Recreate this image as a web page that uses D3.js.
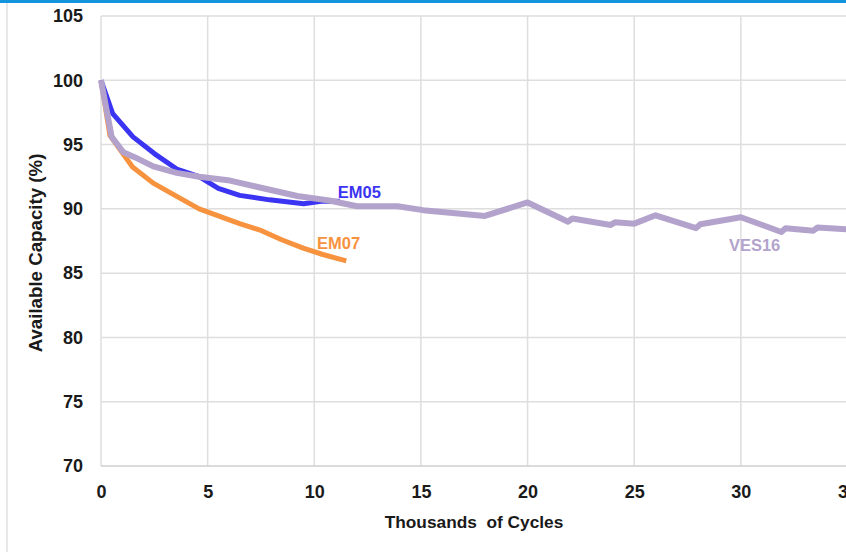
<!DOCTYPE html>
<html>
<head>
<meta charset="utf-8">
<script src="https://cdn.jsdelivr.net/npm/d3@7"></script>
<style>
  body { margin: 0; background: #fff; }
  svg { display: block; font-family: "Liberation Sans", Arial, sans-serif; }
</style>
</head>
<body>
<div class="viz"></div>
<script>
// capacity fade data, x = thousands of cycles, y = available capacity (%)
const em05 = [[0,100],[0.55,97.4],[1.5,95.6],[2.5,94.3],[3.55,93.1],[4.6,92.5],[5.5,91.6],[6.5,91.05],[7.9,90.7],[9.5,90.4],[10.4,90.6],[11.2,90.6]];
const em07 = [[0,100],[0.42,95.7],[1.48,93.25],[2.45,92.0],[3.47,91.05],[4.6,90.0],[5.6,89.4],[6.5,88.85],[7.45,88.35],[8.47,87.6],[9.48,86.95],[10.4,86.45],[11.5,85.95]];
const ves16 = [[0,100],[0.5,95.6],[1.05,94.4],[1.6,94.0],[2.45,93.3],[3.55,92.8],[4.6,92.5],[6.05,92.2],[7.6,91.6],[9.2,91.0],[10.7,90.65],[12,90.2],[13.9,90.2],[15.1,89.9],[18,89.45],[20,90.5],[21.9,89.0],[22.1,89.25],[23.9,88.75],[24.1,88.95],[25,88.85],[26,89.5],[27.9,88.5],[28.1,88.8],[30,89.35],[31.9,88.2],[32.1,88.5],[33.4,88.3],[33.6,88.55],[35.5,88.35]];

const xTicks = [0,5,10,15,20,25,30,35];
const yTicks = [70,75,80,85,90,95,100,105];

const seriesNames = ["EM07","EM05","VES16"];
const seriesData = [em07, em05, ves16];
const seriesColors = ["#f7923f","#3b34f2","#b3a3cc"];
const seriesWidths = [5, 5, 6];
const labelPos = [[10.13, 87.2], [11.1, 91.16], [29.44, 87.03]];

var width = 846, height = 552;

var svg = d3.select('.viz').append('svg')
    .attr('width', width)
    .attr('height', height);

// frame bits
svg.append('rect').attr('x', 0).attr('y', 0).attr('width', width).attr('height', 3).attr('fill', '#1195dd');
svg.append('line').attr('x1', 7).attr('x2', 7).attr('y1', 3).attr('y2', height)
    .attr('stroke', '#d9d9d9').attr('stroke-width', 1.2);

var x = d3.scaleLinear().domain([0, 35]).range([101, 847.5]);
var y = d3.scaleLinear().domain([70, 105]).range([466, 16]);

// gridlines
svg.append('g').selectAll('line.h').data(yTicks.filter(d => d > 70)).enter().append('line')
    .attr('x1', x(0)).attr('x2', width)
    .attr('y1', d => y(d)).attr('y2', d => y(d))
    .attr('stroke', '#dedede').attr('stroke-width', 1.5);
svg.append('g').selectAll('line.v').data(xTicks).enter().append('line')
    .attr('x1', d => x(d)).attr('x2', d => x(d))
    .attr('y1', y(105)).attr('y2', y(70))
    .attr('stroke', '#dedede').attr('stroke-width', 1.5);

// axis line at bottom
svg.append('line').attr('x1', x(0)).attr('x2', width).attr('y1', y(70)).attr('y2', y(70))
    .attr('stroke', '#cfcfcf').attr('stroke-width', 1.5);

// x tick labels
var xAxis = d3.axisBottom(x).tickValues(xTicks).tickSize(0).tickPadding(19);
var gx = svg.append('g').attr('transform', 'translate(0,' + y(70) + ')').call(xAxis);
gx.select('.domain').remove();
gx.selectAll('text').attr('font-size', 18).attr('font-weight', 'bold').attr('fill', '#1a1a1a')
    .attr('font-family', '"Liberation Sans", Arial, sans-serif');

// y tick labels
var yAxis = d3.axisLeft(y).tickValues(yTicks).tickSize(0).tickPadding(18);
var gy = svg.append('g').attr('transform', 'translate(' + x(0) + ',0)').call(yAxis);
gy.select('.domain').remove();
gy.selectAll('text').attr('font-size', 18).attr('font-weight', 'bold').attr('fill', '#1a1a1a')
    .attr('font-family', '"Liberation Sans", Arial, sans-serif');

// axis titles
svg.append('text').attr('x', 474).attr('y', 523)
    .attr('text-anchor', 'middle').attr('dominant-baseline', 'middle')
    .attr('font-size', 17.3).attr('font-weight', 'bold').attr('fill', '#1a1a1a')
    .style('white-space', 'pre')
    .text('Thousands  of Cycles');

svg.append('text')
    .attr('transform', 'translate(37,253) rotate(-90)')
    .attr('text-anchor', 'middle').attr('dominant-baseline', 'middle')
    .attr('font-size', 18.7).attr('font-weight', 'bold').attr('fill', '#1a1a1a')
    .text('Available Capacity (%)');

// lines
var line = d3.line().x(d => x(d[0])).y(d => y(d[1]));

svg.append('defs').append('clipPath').attr('id', 'clip')
    .append('rect').attr('x', 0).attr('y', 0).attr('width', width).attr('height', height);

var lines = svg.append('g').attr('clip-path', 'url(#clip)');
seriesData.forEach(function(data, i){
    lines.append('path')
        .datum(data)
        .attr('d', line)
        .attr('fill', 'none')
        .attr('stroke', seriesColors[i])
        .attr('stroke-width', seriesWidths[i])
        .attr('stroke-linejoin', 'round');
});

// series labels
seriesNames.forEach(function(name, i){
    svg.append('text')
        .attr('x', x(labelPos[i][0])).attr('y', y(labelPos[i][1]))
        .attr('dominant-baseline', 'middle')
        .attr('font-size', 16.5).attr('font-weight', 'bold')
        .attr('fill', seriesColors[i])
        .text(name);
});
</script>
</body>
</html>
